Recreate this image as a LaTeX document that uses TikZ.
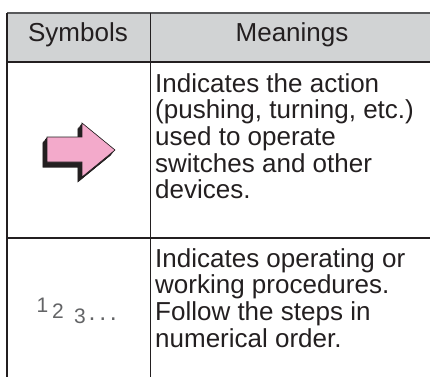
\documentclass[tikz,border=0pt]{standalone}
\usepackage{fontspec}
\setmainfont{Liberation Sans}
\definecolor{ink}{HTML}{231F20}
\definecolor{headfill}{HTML}{D1D3D4}
\definecolor{topline}{HTML}{58595B}
\definecolor{digit}{HTML}{636466}
\definecolor{arrowpink}{HTML}{F3AACB}
\begin{document}
\begin{tikzpicture}[x=1pt,y=-1pt,
  rule/.style={draw=ink,line width=1.2pt},
  head/.style={font=\fontsize{26}{27}\selectfont,text=ink,inner sep=0pt,anchor=base},
  body/.style={font=\fontsize{26}{26.7}\selectfont,text=ink,inner sep=0pt,anchor=north west,align=left},
  num/.style={font=\fontsize{21}{21}\selectfont,text=digit,inner sep=0pt,anchor=base west}]
\useasboundingbox (0,0) rectangle (430,377);
% header
\fill[headfill] (7,13.5) rectangle (430,62);
\draw[draw=topline,line width=2pt] (7,13.5) -- (430,13.5);
\draw[rule] (7,13.5) -- (7,377);
\draw[rule] (150.5,13.5) -- (150.5,377);
\draw[rule] (7,62) -- (430,62);
\draw[rule] (7,238) -- (430,238);
\node[head] (hsym) at (78,42) {Symbols};
\node[head] (hmean) at (292,42) {Meanings};
% arrow symbol with extruded shadow
\foreach \t in {0,0.1,...,1.01}{
  \fill[ink,shift={(-4.5*\t,5.5*\t)}] (47,137) -- (82,137) -- (82,123) -- (115,150) -- (82,177) -- (82,162) -- (47,162) -- cycle;
}
\draw[ink,fill=arrowpink,line width=0.6pt,line join=miter] (47,137) -- (82,137) -- (82,123) -- (115,150) -- (82,177) -- (82,162) -- (47,162) -- cycle;
% row texts
\node[body] (m1) at (155,73.1) {Indicates the action\\(pushing, turning, etc.)\\used to operate\\switches and other\\devices.};
\node[body] (m2) at (155,248.1) {Indicates operating or\\working procedures.\\Follow the steps in\\numerical order.};
% numbers
\node[num] (n1) at (36.5,312.5) {1};
\node[num] (n2) at (52,318) {2};
\node[num] (n3) at (74,323) {3};
\node[num,font=\fontsize{25}{25}\selectfont] (ndots) at (88.5,320.5) {.\kern3.6pt.\kern3.6pt.};
\end{tikzpicture}
\end{document}
